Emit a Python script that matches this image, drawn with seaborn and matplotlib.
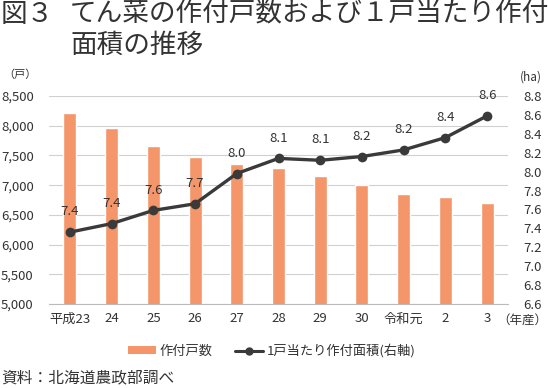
import numpy as np
import pandas as pd
import matplotlib
matplotlib.use("Agg")
import matplotlib.pyplot as plt
import seaborn as sns
from matplotlib.patches import Patch
from matplotlib.lines import Line2D

sns.set_style("white")
plt.rcParams["font.family"] = ["Noto Sans CJK JP", "DejaVu Sans"]

# data
years = ["平成23", "24", "25", "26", "27", "28", "29", "30", "令和元", "2", "3"]
farms = [8210, 7955, 7660, 7470, 7350, 7295, 7160, 7005, 6855, 6795, 6695]
area_per_farm = [7.36, 7.45, 7.59, 7.66, 7.98, 8.14, 8.12, 8.16, 8.23, 8.36, 8.59]
area_labels = ["7.4", "7.4", "7.6", "7.7", "8.0", "8.1", "8.1", "8.2", "8.2", "8.4", "8.6"]

BAR_COLOR = "#F4956A"
LINE_COLOR = "#3a3a3a"
TEXT_COLOR = "#333333"

df = pd.DataFrame({"year": years, "farms": farms, "area": area_per_farm})

fig = plt.figure(figsize=(5.48, 3.88), dpi=100)
ax = fig.add_axes([49 / 548, 1 - 304 / 388, (508 - 49) / 548, (304 - 96) / 388])

sns.barplot(data=df, x="year", y="farms", color=BAR_COLOR, width=0.31,
            saturation=1, ax=ax)
ax.set_ylim(5000, 8500)
ax.set_yticks(np.arange(5000, 8501, 500))
ax.set_yticklabels([f"{v:,}" for v in range(5000, 8501, 500)])
ax.set_xlim(-0.5, len(years) - 0.5)
ax.yaxis.grid(True, color="#d0d0d0", linewidth=0.8)
ax.set_axisbelow(True)
for s in ["left", "right", "top"]:
    ax.spines[s].set_visible(False)
ax.spines["bottom"].set_color("#bbbbbb")
ax.set_xlabel(""); ax.set_ylabel("")
ax.tick_params(axis="both", length=0, labelsize=9.5, colors=TEXT_COLOR)
ax.tick_params(axis="y", pad=11)
ax.tick_params(axis="x", pad=6)

ax2 = ax.twinx()
sns.lineplot(data=df, x="year", y="area", color=LINE_COLOR, linewidth=2.4,
             marker="o", markersize=7, markeredgewidth=0, ax=ax2)
ax2.set_ylim(6.6, 8.8)
ax2.set_yticks(np.round(np.arange(6.6, 8.81, 0.2), 1))
ax2.set_yticklabels([f"{v:.1f}" for v in np.arange(6.6, 8.81, 0.2)])
for s in ["left", "right", "top", "bottom"]:
    ax2.spines[s].set_visible(False)
ax2.set_xlabel(""); ax2.set_ylabel("")
ax2.tick_params(axis="both", length=0, labelsize=9.5, colors=TEXT_COLOR)
ax2.tick_params(axis="y", pad=11)

for i, (v, lab) in enumerate(zip(area_per_farm, area_labels)):
    ax2.annotate(lab, (i, v), xytext=(0, 10), textcoords="offset points",
                 ha="center", va="bottom", fontsize=9.5, color=TEXT_COLOR)

# unit labels
fig.text(20 / 548, 1 - 75 / 388, "（戸）", fontsize=8, color=TEXT_COLOR, ha="center", va="center")
fig.text(531 / 548, 1 - 77 / 388, "(ha)", fontsize=8.5, color=TEXT_COLOR, ha="center", va="center")
fig.text(547 / 548, 1 - 320 / 388, "（年産）", fontsize=9, color=TEXT_COLOR, ha="right", va="center")

# title
fig.text(1 / 548, 1 - 14 / 388, "図３", fontsize=19.2, color=TEXT_COLOR, ha="left", va="center")
fig.text(70 / 548, 1 - 14 / 388, "てん菜の作付戸数および１戸当たり作付", fontsize=19.2,
         color=TEXT_COLOR, ha="left", va="center")
fig.text(70 / 548, 1 - 45 / 388, "面積の推移", fontsize=19.2, color=TEXT_COLOR,
         ha="left", va="center")

# legend
handles = [Patch(facecolor=BAR_COLOR, edgecolor="none"),
           Line2D([0], [0], color=LINE_COLOR, linewidth=2.2, marker="o", markersize=5)]
fig.legend(handles, ["作付戸数", "1戸当たり作付面積(右軸)"], loc="center",
           bbox_to_anchor=(272 / 548, 1 - 351 / 388), ncol=2, frameon=False,
           fontsize=9.5, handlelength=2.1, handleheight=0.6, columnspacing=1.7,
           handletextpad=0.3, labelcolor=TEXT_COLOR)

# source
fig.text(1 / 548, 1 - 378 / 388, "資料：北海道農政部調べ", fontsize=11.3,
         color=TEXT_COLOR, ha="left", va="center")

fig.savefig("out.png", dpi=100)
